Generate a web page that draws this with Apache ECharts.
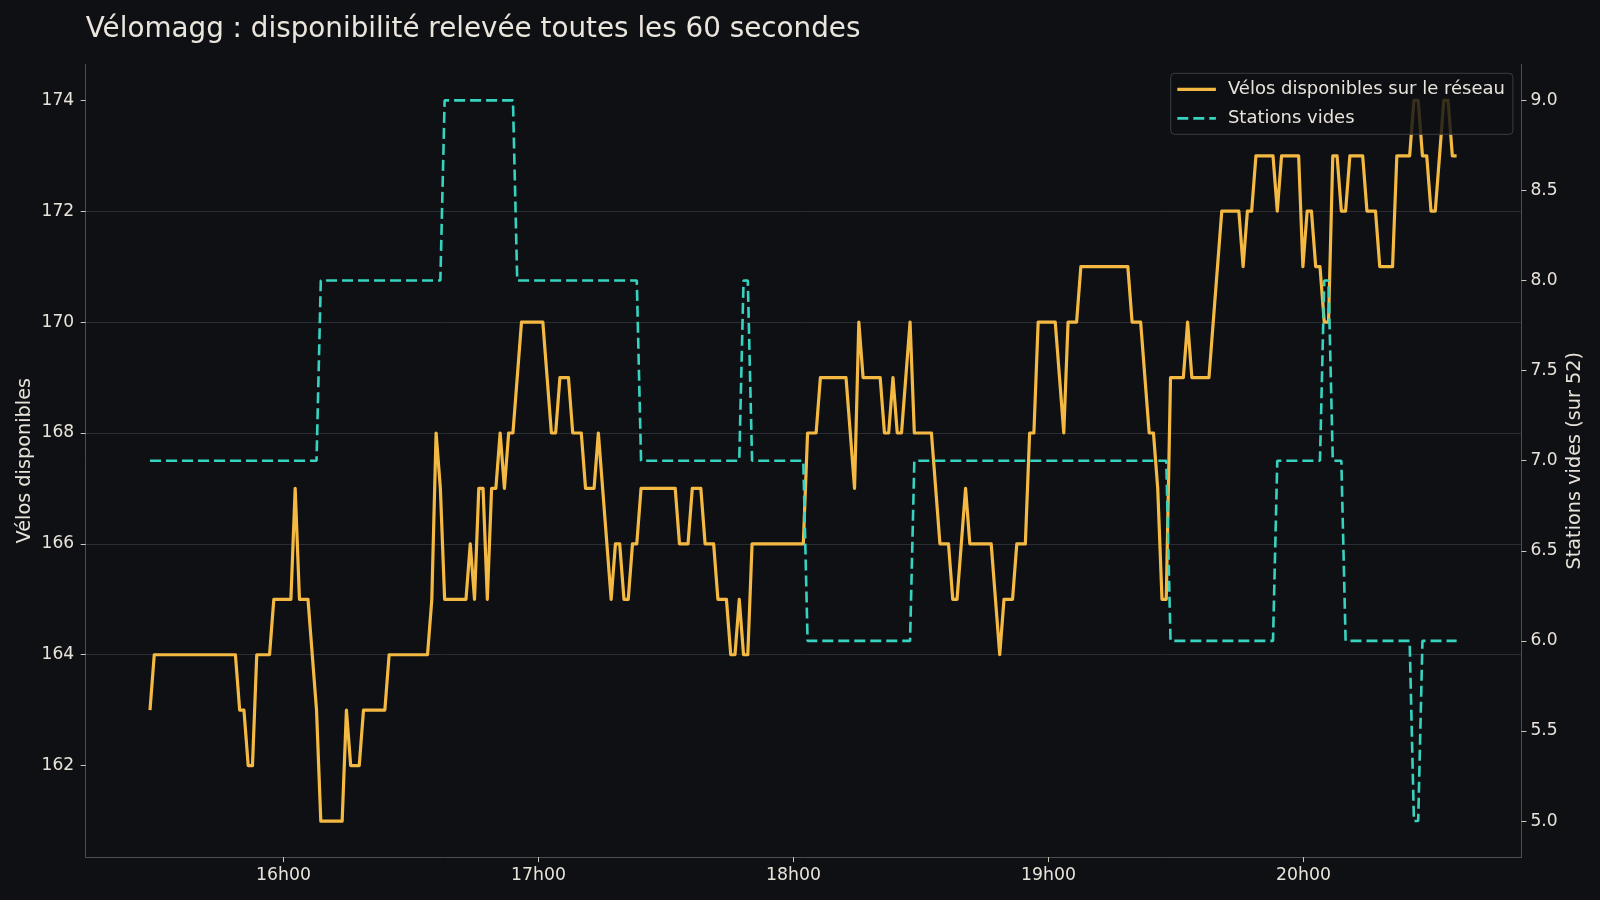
<!DOCTYPE html>
<html>
<head>
<meta charset="utf-8">
<title>Vélomagg</title>
<script src="https://cdn.jsdelivr.net/npm/echarts@6/dist/echarts.min.js"></script>
<style>
  html, body { margin: 0; padding: 0; background: #0e1013; }
  #main { width: 1600px; height: 900px; }
</style>
</head>
<body>
<div id="main"></div>
<script>
// relevés : [numéro du relevé, valeur] aux points où la courbe change de pente
var velos = [
  [0,163],[1,164],[20,164],[21,163],[22,163],[23,162],[24,162],[25,164],[28,164],[29,165],
  [33,165],[34,167],[35,165],[37,165],[39,163],[40,161],[45,161],[46,163],[47,162],[49,162],
  [50,163],[55,163],[56,164],[65,164],[66,165],[67,168],[68,167],[69,165],[74,165],[75,166],
  [76,165],[77,167],[78,167],[79,165],[80,167],[81,167],[82,168],[83,167],[84,168],[85,168],
  [87,170],[92,170],[94,168],[95,168],[96,169],[98,169],[99,168],[101,168],[102,167],[104,167],
  [105,168],[108,165],[109,166],[110,166],[111,165],[112,165],[113,166],[114,166],[115,167],[123,167],
  [124,166],[126,166],[127,167],[129,167],[130,166],[132,166],[133,165],[135,165],[136,164],[137,164],
  [138,165],[139,164],[140,164],[141,166],[153,166],[154,168],[156,168],[157,169],[163,169],[165,167],
  [166,170],[167,169],[171,169],[172,168],[173,168],[174,169],[175,168],[176,168],[178,170],[179,168],
  [183,168],[185,166],[187,166],[188,165],[189,165],[191,167],[192,166],[197,166],[199,164],[200,165],
  [202,165],[203,166],[205,166],[206,168],[207,168],[208,170],[212,170],[214,168],[215,170],[217,170],
  [218,171],[229,171],[230,170],[232,170],[234,168],[235,168],[236,167],[237,165],[238,165],[239,169],
  [242,169],[243,170],[244,169],[248,169],[251,172],[255,172],[256,171],[257,172],[258,172],[259,173],
  [263,173],[264,172],[265,173],[269,173],[270,171],[271,172],[272,172],[273,171],[274,171],[275,170],
  [276,170],[277,173],[278,173],[279,172],[280,172],[281,173],[284,173],[285,172],[287,172],[288,171],
  [291,171],[292,173],[295,173],[296,174],[297,174],[298,173],[299,173],[300,172],[301,172],[303,174],
  [304,174],[305,173],[306,173]
];
var stations = [
  [0,7],[39,7],[40,8],[68,8],[69,9],[85,9],[86,8],[114,8],[115,7],[138,7],
  [139,8],[140,8],[141,7],[153,7],[154,6],[178,6],[179,7],[238,7],[239,6],[263,6],
  [264,7],[274,7],[275,8],[276,8],[277,7],[279,7],[280,6],[295,6],[296,5],[297,5],
  [298,6],[306,6]
];
var t0 = 928.59;      // premier relevé, en minutes depuis minuit (15h28)
var pas = 1.0047;     // ~60 s entre deux relevés
var xTicks = [960, 1020, 1080, 1140, 1200];
var leftTicks = [162, 164, 166, 168, 170, 172, 174];
var rightTicks = [5, 5.5, 6, 6.5, 7, 7.5, 8, 8.5, 9];

var txt = '#e8e3da';
var font = 'DejaVu Sans';

function enTemps(p) { return [t0 + p[0] * pas, p[1]]; }

var myChart = echarts.init(document.getElementById('main'), null, { renderer: 'canvas' });

var option = {
  backgroundColor: '#0e1013',
  animation: false,
  title: {
    text: 'Vélomagg : disponibilité relevée toutes les 60 secondes',
    left: 85.7, top: 16, padding: 0,
    textStyle: { color: '#ebe6dd', fontSize: 27.8, fontWeight: 'normal', fontFamily: font }
  },
  legend: {
    orient: 'vertical',
    left: 1170.7, top: 73.3,
    padding: [7, 8, 7, 5],
    itemWidth: 38.6, itemHeight: 16, itemGap: 11,
    itemStyle: { opacity: 0 },
    backgroundColor: 'rgba(14,16,20,0.82)',
    borderColor: '#3a3d44', borderWidth: 1, borderRadius: 4,
    textStyle: { color: txt, fontSize: 18, fontFamily: font, padding: [0, 0, 0, 7] },
    data: [
      { name: 'Vélos disponibles sur le réseau', lineStyle: { width: 3.2 } },
      { name: 'Stations vides', lineStyle: { width: 2.8 } }
    ]
  },
  grid: { left: 85.7, right: 78.6, top: 64.3, bottom: 42.9 },
  xAxis: {
    type: 'value',
    min: 913.46, max: 1251.27,
    axisLine: { lineStyle: { color: '#4a4d53' } },
    axisTick: { customValues: xTicks, length: 5, lineStyle: { color: '#cfcac1' } },
    axisLabel: {
      customValues: xTicks, margin: 10, color: txt, fontSize: 17.3, fontFamily: font,
      formatter: function (v) { return Math.round(v / 60) + 'h00'; }
    },
    splitLine: { show: false }
  },
  yAxis: [
    {
      type: 'value',
      min: 160.35, max: 174.65, splitNumber: 7,
      name: 'Vélos disponibles', nameLocation: 'middle', nameRotate: 90, nameGap: 51,
      nameMoveOverlap: false,
      nameTextStyle: { color: txt, fontSize: 19.3, fontFamily: font },
      axisLine: { show: true, lineStyle: { color: '#4a4d53' } },
      axisTick: { show: true, customValues: leftTicks, length: 5, lineStyle: { color: '#cfcac1' } },
      axisLabel: { customValues: leftTicks, margin: 11.5, color: txt, fontSize: 17.1, fontFamily: font },
      splitLine: { show: true, showMinLine: false, showMaxLine: false, lineStyle: { color: '#2a2d33', width: 1 } }
    },
    {
      type: 'value',
      min: 4.8, max: 9.2, splitNumber: 8,
      name: 'Stations vides (sur 52)', nameLocation: 'middle', nameRotate: 90, nameGap: 44.5,
      nameMoveOverlap: false,
      nameTextStyle: { color: txt, fontSize: 19.3, fontFamily: font },
      axisLine: { show: true, lineStyle: { color: '#4a4d53' } },
      axisTick: { show: true, customValues: rightTicks, length: 5, lineStyle: { color: '#cfcac1' } },
      axisLabel: {
        customValues: rightTicks, margin: 9, color: txt, fontSize: 17.1, fontFamily: font,
        formatter: function (v) { return v.toFixed(1); }
      },
      splitLine: { show: false }
    }
  ],
  series: [
    {
      name: 'Vélos disponibles sur le réseau',
      type: 'line',
      yAxisIndex: 0,
      symbol: 'none', showSymbol: false,
      z: 2,
      lineStyle: { color: '#f4b942', width: 3.2, join: 'round' },
      itemStyle: { color: '#f4b942' },
      data: velos.map(enTemps)
    },
    {
      name: 'Stations vides',
      type: 'line',
      yAxisIndex: 1,
      symbol: 'none', showSymbol: false,
      z: 3,
      lineStyle: { color: '#38d3c0', width: 2.6, type: [11, 5] },
      itemStyle: { color: '#38d3c0' },
      data: stations.map(enTemps)
    }
  ]
};

myChart.setOption(option);
</script>
</body>
</html>
